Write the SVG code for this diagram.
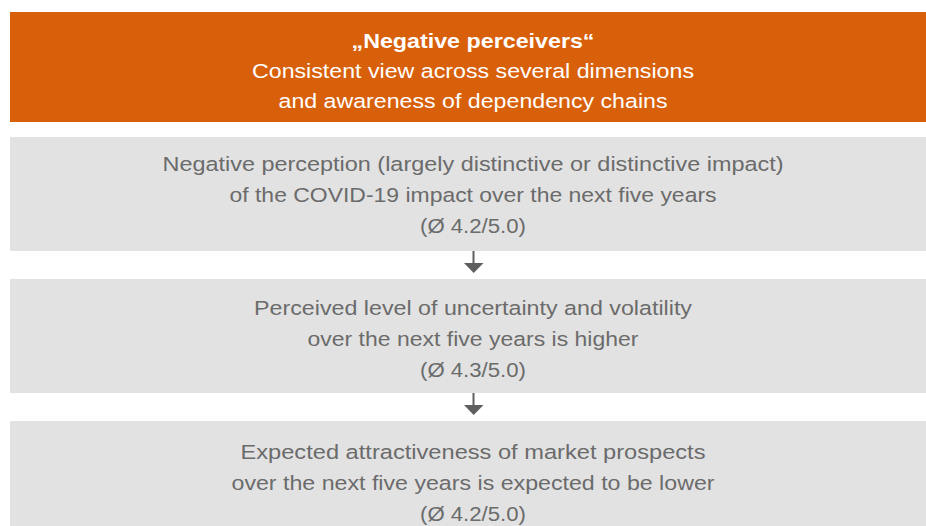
<svg xmlns="http://www.w3.org/2000/svg" width="926" height="526" viewBox="0 0 926 526">
<defs>
<style>
.hdr{fill:#D9600A}
.box{fill:#E2E2E2}
.t{font-family:"Liberation Sans",Arial,sans-serif;font-size:20.5px;text-anchor:middle;fill:#6B6B6B}
.w{fill:#FFFFFF}
.b{font-weight:bold}
.conn{stroke:#5F5F5F;stroke-width:2;fill:none}
.head{fill:#5F5F5F}
</style>
</defs>
<rect width="926" height="526" fill="#FFFFFF"/>
<g id="header">
<rect class="hdr" x="10" y="12" width="926" height="110"/>
<text class="t w b" x="473" y="48" textLength="243" lengthAdjust="spacingAndGlyphs">„Negative perceivers“</text>
<text class="t w" x="473" y="78" textLength="442" lengthAdjust="spacingAndGlyphs">Consistent view across several dimensions</text>
<text class="t w" x="473" y="108" textLength="389" lengthAdjust="spacingAndGlyphs">and awareness of dependency chains</text>
</g>
<g id="box1">
<rect class="box" x="10" y="137" width="926" height="114"/>
<text class="t" x="473" y="171" textLength="621" lengthAdjust="spacingAndGlyphs">Negative perception (largely distinctive or distinctive impact)</text>
<text class="t" x="473" y="202" textLength="487" lengthAdjust="spacingAndGlyphs">of the COVID-19 impact over the next five years</text>
<text class="t" x="473" y="233" textLength="106" lengthAdjust="spacingAndGlyphs">(Ø 4.2/5.0)</text>
</g>
<g id="box2">
<rect class="box" x="10" y="279" width="926" height="114"/>
<text class="t" x="473" y="315" textLength="438" lengthAdjust="spacingAndGlyphs">Perceived level of uncertainty and volatility</text>
<text class="t" x="473" y="346" textLength="331" lengthAdjust="spacingAndGlyphs">over the next five years is higher</text>
<text class="t" x="473" y="377" textLength="106" lengthAdjust="spacingAndGlyphs">(Ø 4.3/5.0)</text>
</g>
<g id="box3">
<rect class="box" x="10" y="421" width="926" height="114"/>
<text class="t" x="473" y="459" textLength="465" lengthAdjust="spacingAndGlyphs">Expected attractiveness of market prospects</text>
<text class="t" x="473" y="490" textLength="483" lengthAdjust="spacingAndGlyphs">over the next five years is expected to be lower</text>
<text class="t" x="473" y="521" textLength="106" lengthAdjust="spacingAndGlyphs">(Ø 4.2/5.0)</text>
</g>
<g id="connectors">
<line class="conn" x1="473.5" y1="251" x2="473.5" y2="264"/>
<polygon class="head" points="464,263 483.5,263 473.7,273"/>
<line class="conn" x1="473.5" y1="393" x2="473.5" y2="406"/>
<polygon class="head" points="464,405 483.5,405 473.7,415"/>
</g>
</svg>
